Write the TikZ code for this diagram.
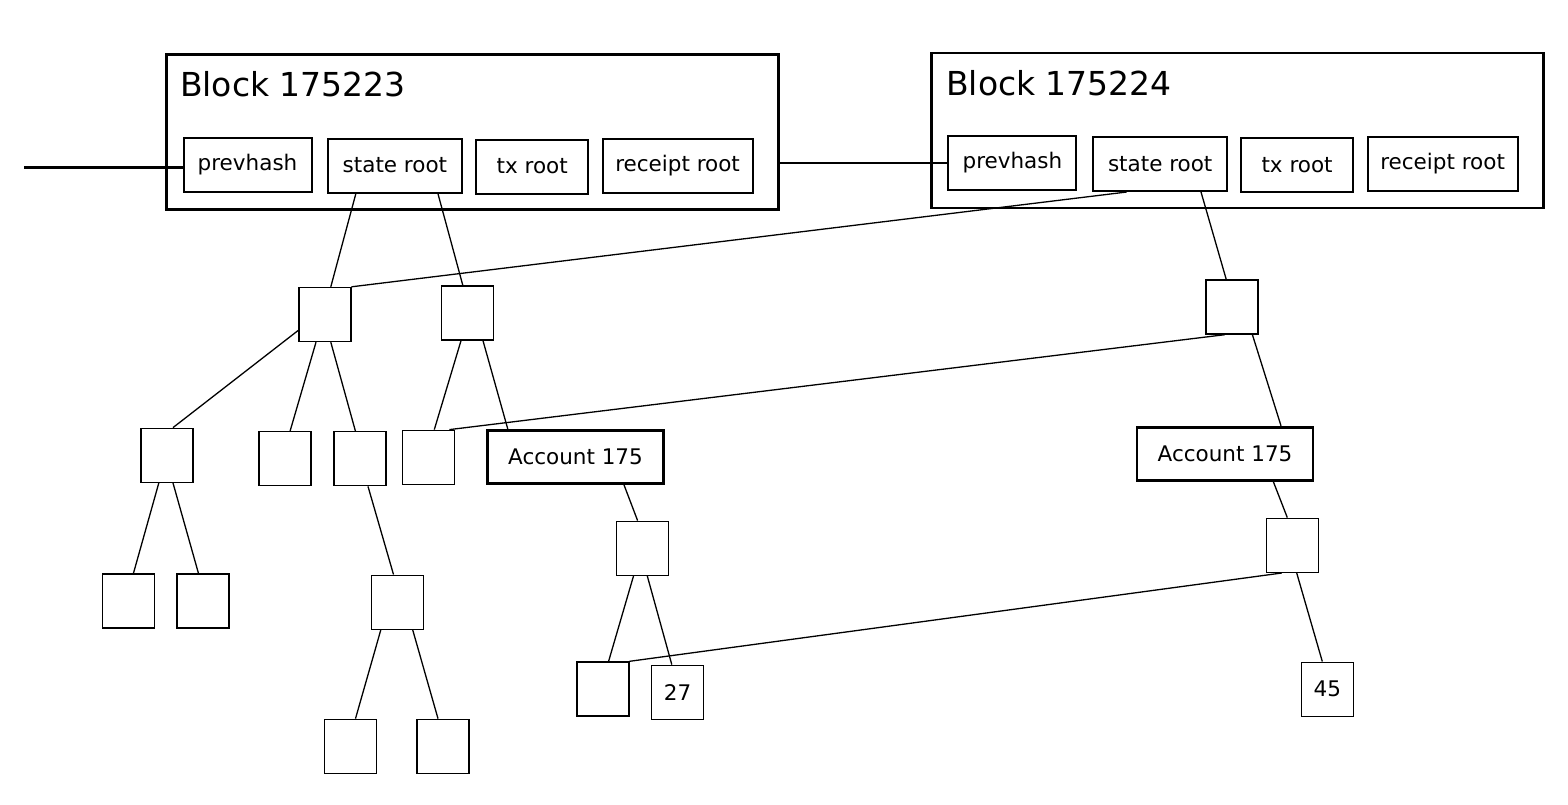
\documentclass[tikz,border=0pt]{standalone}
\usepackage{fontspec}
\setmainfont{DejaVu Sans}
\begin{document}
\begin{tikzpicture}[x=0.5pt,y=-0.5pt,
		lbl/.style={font=\fontsize{10.75}{12}\selectfont},
		leaf/.style={lbl,draw,line width=0.7pt,minimum width=26pt,minimum height=27pt,inner sep=0pt},
		field/.style={lbl,draw,line width=1pt,minimum height=27pt,inner sep=0pt},
		acct/.style={lbl,draw,line width=1.4pt,minimum width=88pt,minimum height=26.5pt,inner sep=0pt},
		blockbox/.style={draw,line width=1.4pt,minimum width=306pt,minimum height=77.5pt,inner sep=0pt},
		title/.style={anchor=base west,inner sep=0pt,font=\fontsize{16.5}{18}\selectfont},
		edge/.style={line width=0.65pt}]
		\useasboundingbox (0,0) rectangle (1568,804);
		\node[blockbox] (blk1) at (472.2,131.8) {};
		\node[blockbox] (blk2) at (1237.3,130.5) {};
		\node[title] (t1) at (179.6,96.7) {Block 175223};
		\node[title] (t2) at (945.8,95) {Block 175224};
		\node[field,minimum width=64pt] (ph1) at (247.5,164.7) {prevhash};
		\node[field,minimum width=67pt] (sr1) at (394.9,165.5) {state root};
		\node[field,minimum width=56pt] (tx1) at (532.2,166.5) {tx root};
		\node[field,minimum width=75pt] (rr1) at (677.6,165.5) {receipt root};
		\node[field,minimum width=64pt] (ph2) at (1012.4,163) {prevhash};
		\node[field,minimum width=67pt] (sr2) at (1160.2,164) {state root};
		\node[field,minimum width=56pt] (tx2) at (1297.1,164.9) {tx root};
		\node[field,minimum width=75pt] (rr2) at (1442.6,164) {receipt root};
		\coordinate (in) at (24,167.3);
		\draw[line width=1.3pt] (in) -- (in -| ph1.west);
		\draw[edge] (blk1.east |- ph2.west) -- (ph2.west);
		\node[leaf] (n1) at (324.8,314.5) {};
		\node[leaf] (n2) at (467.6,313) {};
		\node[leaf] (n3) at (1231.8,307) {};
		\node[leaf] (a) at (166.8,455.3) {};
		\node[leaf] (b) at (285.1,458.7) {};
		\node[leaf] (c) at (359.8,458.7) {};
		\node[leaf] (d) at (428.6,457.3) {};
		\node[acct] (accL) at (575.5,457) {Account 175};
		\node[acct] (accR) at (1225,453.7) {Account 175};
		\node[leaf] (e) at (128.4,600.8) {};
		\node[leaf] (f) at (203,600.8) {};
		\node[leaf] (g) at (397.7,602.2) {};
		\node[leaf] (h) at (642.5,548.3) {};
		\node[leaf] (i) at (1292.5,545.3) {};
		\node[leaf] (j) at (350.3,746.3) {};
		\node[leaf] (k) at (442.8,746.3) {};
		\node[leaf] (l) at (602.8,689) {};
		\node[leaf] (v27) at (677.5,692.3) {27};
		\node[leaf] (v45) at (1327.3,689.2) {45};
		\draw[edge] ([xshift=-19.5pt]sr1.south) -- ([xshift=3pt]n1.north);
		\draw[edge] ([xshift=21.5pt]sr1.south) -- ([xshift=-2.4pt]n2.north);
		\draw[edge] ([xshift=-16.75pt]sr2.south) -- (n1.north east);
		\draw[edge] ([xshift=20.4pt]sr2.south) -- ([xshift=-2.8pt]n3.north);
		\draw[edge] ([yshift=-8pt]n1.west) -- ([xshift=3.1pt]a.north);
		\draw[edge] ([xshift=-4.4pt]n1.south) -- ([xshift=2.5pt]b.north);
		\draw[edge] ([xshift=3pt]n1.south) -- ([xshift=-2.2pt]c.north);
		\draw[edge] ([xshift=-3.3pt]n2.south) -- ([xshift=2.85pt]d.north);
		\draw[edge] ([xshift=7.7pt]n2.south) -- ([xshift=-33.85pt]accL.north);
		\draw[edge] ([xshift=-3.55pt]n3.south) -- ([xshift=10.4pt]d.north);
		\draw[edge] ([xshift=10.3pt]n3.south) -- ([xshift=28pt]accR.north);
		\draw[edge] ([xshift=-4pt]a.south) -- ([xshift=2.55pt]e.north);
		\draw[edge] ([xshift=3.1pt]a.south) -- ([xshift=-2.3pt]f.north);
		\draw[edge] ([xshift=4.1pt]c.south) -- ([xshift=-2.1pt]g.north);
		\draw[edge] ([xshift=-8.45pt]g.south) -- ([xshift=2.6pt]j.north);
		\draw[edge] ([xshift=7.5pt]g.south) -- ([xshift=-2.4pt]k.north);
		\draw[edge] ([xshift=24.25pt]accL.south) -- ([xshift=-2.45pt]h.north);
		\draw[edge] ([xshift=-4.5pt]h.south) -- ([xshift=2.9pt]l.north);
		\draw[edge] ([xshift=2.4pt]h.south) -- ([xshift=-2.85pt]v27.north);
		\draw[edge] ([xshift=24.15pt]accR.south) -- ([xshift=-2.6pt]i.north);
		\draw[edge] ([xshift=-5.4pt]i.south) -- (l.north east);
		\draw[edge] ([xshift=2.1pt]i.south) -- ([xshift=-2.5pt]v45.north);
\end{tikzpicture}
\end{document}
